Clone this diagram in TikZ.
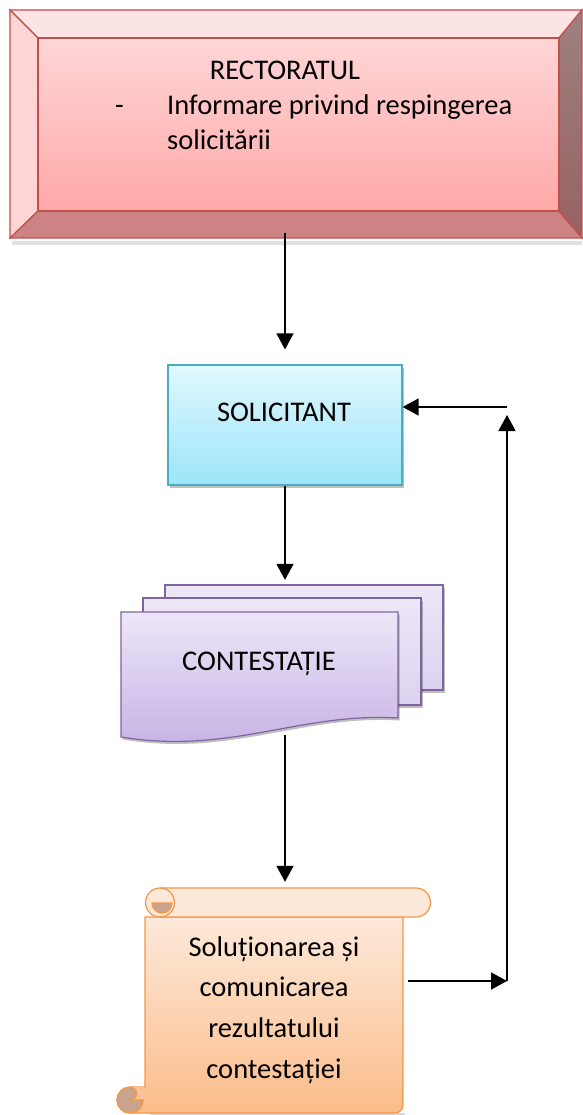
\documentclass[tikz,border=0pt]{standalone}
\usepackage{fontspec}
\setmainfont{Carlito}
\usetikzlibrary{arrows.meta,calc,shadows}
\definecolor{redline}{RGB}{192,80,77}
\definecolor{bevtop}{RGB}{253,228,228}
\definecolor{bevleft}{RGB}{255,212,212}
\definecolor{bevbot}{RGB}{205,131,131}
\definecolor{bevrightA}{RGB}{158,128,128}
\definecolor{bevrightB}{RGB}{152,98,98}
\definecolor{redtop}{RGB}{255,214,214}
\definecolor{redbot}{RGB}{255,168,168}
\definecolor{blueline}{RGB}{75,172,198}
\definecolor{bluetop}{RGB}{224,248,253}
\definecolor{bluebot}{RGB}{156,229,249}
\definecolor{purpline}{RGB}{128,100,162}
\definecolor{purptop}{RGB}{237,231,248}
\definecolor{purpbot}{RGB}{196,175,227}
\definecolor{purpbackbot}{RGB}{220,210,239}
\definecolor{orline}{RGB}{247,150,70}
\definecolor{ortop}{RGB}{253,233,218}
\definecolor{orbot}{RGB}{251,188,138}
\definecolor{orcurl}{RGB}{200,164,140}
\tikzset{
  arr/.style={line width=1.6pt,-{Triangle[length=16pt,width=17pt]}},
  txt/.style={font=\fontsize{28.5}{34}\selectfont,inner sep=0pt},
  shad/.style={drop shadow={shadow xshift=1.5pt,shadow yshift=-2.5pt,opacity=0.25,fill=black}},
  docshape/.style={draw=purpline,line width=1.2pt,shad},
  scrollline/.style={draw=orline,line width=1.2pt},
}
\begin{document}
\begin{tikzpicture}[x=1pt,y=-1pt]
\useasboundingbox (0,0) rectangle (582,1115);
\fill[white] (0,0) rectangle (582,1115);

% ---------- RECTORATUL (bevel box) ----------
\fill[black,opacity=0.12] (12,241) rectangle (582,245);
\path[fill=bevtop,draw=redline,line width=1.2pt] (10,10) -- (582,10) -- (559,38) -- (38,38) -- cycle;
\path[fill=bevleft,draw=redline,line width=1.2pt] (10,10) -- (38,38) -- (38,211) -- (10,238) -- cycle;
\path[fill=bevbot,draw=redline,line width=1.2pt] (10,238) -- (38,211) -- (559,211) -- (582,238) -- cycle;
\path[top color=bevrightA,bottom color=bevrightB,draw=redline,line width=1.2pt] (582,10) -- (582,238) -- (559,211) -- (559,38) -- cycle;
\node[draw=redline,line width=1.2pt,top color=redtop,bottom color=redbot,
      minimum width=521pt,minimum height=173pt,inner sep=0pt] (rect) at (298.5,124.5) {};
\node[txt,anchor=base] (r1) at (285,80) {RECTORATUL};
\node[txt,anchor=base west] (r2) at (115,115) {-};
\node[txt,anchor=base west] (r3) at (167,115) {Informare privind respingerea};
\node[txt,anchor=base west] (r4) at (167,150) {solicitării};

% ---------- SOLICITANT ----------
\node[draw=blueline,line width=1.2pt,top color=bluetop,bottom color=bluebot,shad,
      minimum width=234pt,minimum height=120pt,inner sep=0pt] (sol) at (285,425) {};
\node[txt,anchor=base] (soltxt) at (284,421) {SOLICITANT};

% ---------- CONTESTATIE (multi-document) ----------
\node[minimum width=322pt,minimum height=161pt,inner sep=0pt] (doc) at (282,664.5) {};
\path[docshape,top color=purptop,bottom color=purpbackbot] (165,585) rectangle (443,690);
\path[docshape,top color=purptop,bottom color=purpbackbot] (143,598) rectangle (421,705);
\path[docshape,top color=purptop,bottom color=purpbot]
  (121,612) -- (398,612) -- (398,718) .. controls (300,712) and (230,755) .. (121,737) -- cycle;
\node[txt,anchor=base] (doctxt) at (259,670) {CONTESTAȚIE};

% ---------- Scroll ----------
\node[minimum width=258pt,minimum height=225pt,inner sep=0pt] (scr) at (274,1000.5) {};
\fill[black,opacity=0.15] (150,1113) -- (405,1113) -- (405,1116) -- (150,1116) -- cycle;
\path[scrollline,top color=ortop,bottom color=orbot]
  (145,917) -- (403,917) -- (403,1105) arc[start angle=0,end angle=90,radius=8]
  -- (130,1113) arc[start angle=90,end angle=270,radius=13] -- (145,1087) -- cycle;
\path[scrollline,fill=orcurl] (130,1100) circle[radius=13];
\fill[orbot!85!ortop] (130,1087) arc[start angle=270,end angle=450,radius=6.5] -- (144,1100) -- (144,1087) -- cycle;
\draw[orline,line width=1.2pt] (130,1087) arc[start angle=270,end angle=450,radius=6.5] -- (144,1100);
\path[scrollline,fill=ortop]
  (160,888) -- (416,888) arc[start angle=270,end angle=450,radius=14.5]
  -- (160,917) arc[start angle=90,end angle=270,radius=14.5] -- cycle;
\path[scrollline,fill=orcurl] (172,903) arc[start angle=0,end angle=180,radius=10] -- cycle;
\draw[orline,line width=1.2pt] (160,888) arc[start angle=270,end angle=450,radius=14.5];
\node[txt,anchor=base] (s1) at (274,956) {Soluționarea și};
\node[txt,anchor=base] (s2) at (274,996) {comunicarea};
\node[txt,anchor=base] (s3) at (274,1037) {rezultatului};
\node[txt,anchor=base] (s4) at (274,1078) {contestației};

% ---------- connectors ----------
\coordinate (rb) at (507,981);
\coordinate (rt) at (507,407);
\draw[arr,shorten >=15pt] ($(sol.north |- rect.south)+(0,21)$) -- (sol.north);
\draw[arr,shorten >=4pt] (sol.south) -- (sol.south |- doc.north);
\draw[arr,shorten >=6pt] ($(sol.south |- doc.south)+(0,-10)$) -- (sol.south |- scr.north);
\draw[arr] ($(scr.east |- rb)+(5,0)$) -- (rb);
\draw[arr,shorten >=8pt] (rb) -- (rt);
\draw[arr] (rt) -- (sol.east |- rt);
\end{tikzpicture}
\end{document}
